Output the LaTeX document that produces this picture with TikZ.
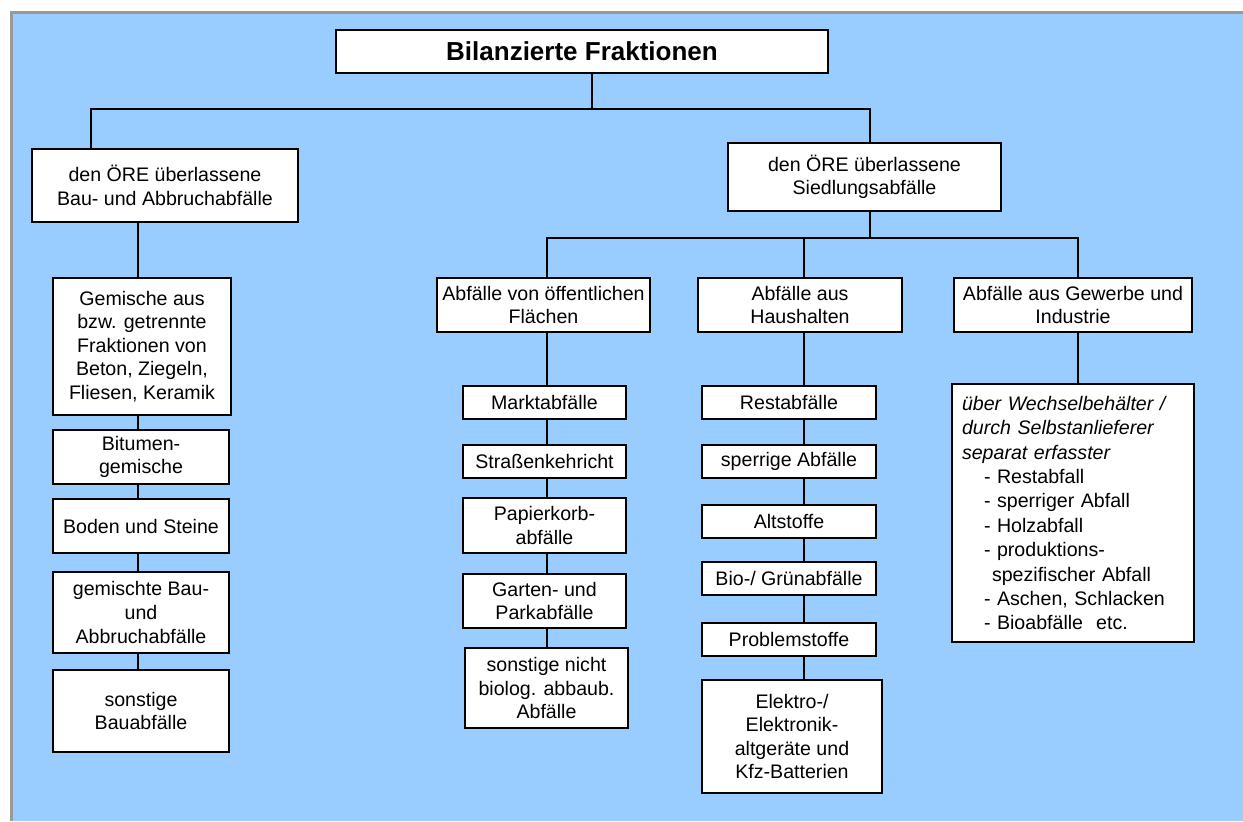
\documentclass[tikz,border=0pt]{standalone}
\usepackage{fontspec}
\setmainfont{Liberation Sans}
\definecolor{hgblau}{HTML}{99CCFF}
\definecolor{rahmengrau}{HTML}{999999}
\tikzset{
  kasten/.style={draw,fill=white,line width=0.8pt,align=center,inner sep=1pt,
    font=\fontsize{9.8}{11.8}\selectfont},
  linie/.style={line width=0.8pt}
}
\begin{document}
\begin{tikzpicture}[x=0.5pt,y=-0.5pt]
\useasboundingbox (0,0) rectangle (1243,821);
\fill[white] (0,0) rectangle (1243,821);
\fill[rahmengrau] (10,11) rectangle (1243,821);
\fill[hgblau] (13,14) rectangle (1243,821);
% Kopf
\node[kasten,minimum width=246pt,minimum height=21.5pt,font=\fontsize{13}{15}\selectfont\bfseries] (titel) at (582,51.5) {Bilanzierte Fraktionen};
\node[kasten,minimum width=133pt,minimum height=36.5pt] (bau) at (165,185.5) {den ÖRE überlassene\\Bau- und Abbruchabfälle};
\node[kasten,minimum width=136.5pt,minimum height=34pt] (sied) at (864.5,177) {den ÖRE überlassene\\Siedlungsabfälle};
% Bau- und Abbruchabfaelle
\node[kasten,minimum width=89pt,minimum height=68.5pt] (gem) at (142,346.5) {Gemische aus\\bzw. getrennte\\Fraktionen von\\Beton, Ziegeln,\\Fliesen, Keramik};
\node[kasten,minimum width=88pt,minimum height=27pt] (bit) at (141,457) {Bitumen-\\gemische};
\node[kasten,minimum width=88pt,minimum height=27pt] (bod) at (141,526) {Boden und Steine};
\node[kasten,minimum width=88pt,minimum height=40.5pt] (gmb) at (141,612.5) {gemischte Bau-\\und\\Abbruchabfälle};
\node[kasten,minimum width=88pt,minimum height=41pt] (son) at (141,711) {sonstige\\Bauabfälle};
% Siedlungsabfaelle
\node[kasten,minimum width=106.5pt,minimum height=27pt] (fla) at (543.5,305) {Abfälle von öffentlichen\\Flächen};
\node[kasten,minimum width=102pt,minimum height=27pt] (hau) at (800,305) {Abfälle aus\\Haushalten};
\node[kasten,minimum width=119pt,minimum height=27pt] (gew) at (1073,305) {Abfälle aus Gewerbe und\\Industrie};
\node[kasten,minimum width=81.5pt,minimum height=16.5pt] (mar) at (544.5,402.5) {Marktabfälle};
\node[kasten,minimum width=81.5pt,minimum height=16.5pt] (str) at (544.5,461.5) {Straßenkehricht};
\node[kasten,minimum width=81.5pt,minimum height=27.5pt] (pap) at (544.5,525.5) {Papierkorb-\\abfälle};
\node[kasten,minimum width=81.5pt,minimum height=27pt] (gar) at (544.5,601) {Garten- und\\Parkabfälle};
\node[kasten,minimum width=81.5pt,minimum height=40pt] (snb) at (546.5,688) {sonstige nicht\\biolog. abbaub.\\Abfälle};
\node[kasten,minimum width=87pt,minimum height=16.5pt] (res) at (789,402.5) {Restabfälle};
\node[kasten,minimum width=87pt,minimum height=16.5pt] (spe) at (789,461.5) {sperrige Abfälle};
\node[kasten,minimum width=87pt,minimum height=16.5pt] (alt) at (789,521.5) {Altstoffe};
\node[kasten,minimum width=87pt,minimum height=16.5pt] (bio) at (789,578.5) {Bio-/ Grünabfälle};
\node[kasten,minimum width=87pt,minimum height=16.5pt] (pro) at (789,639.5) {Problemstoffe};
\node[kasten,minimum width=90pt,minimum height=56.5pt] (ele) at (792,736.5) {Elektro-/\\Elektronik-\\altgeräte und\\Kfz-Batterien};
\node[kasten,minimum width=121pt,minimum height=129pt,text width=111pt,align=left,inner sep=5pt,
  font=\fontsize{9.8}{12.2}\selectfont] (gwk) at (1073,513) {\textit{über Wechselbehälter /}\\\textit{durch Selbstanlieferer}\\\textit{separat erfasster}\\
  \hspace*{11pt}- Restabfall\\\hspace*{11pt}- sperriger Abfall\\\hspace*{11pt}- Holzabfall\\\hspace*{11pt}- produktions-\\
  \hspace*{15pt}spezifischer Abfall\\\hspace*{11pt}- Aschen, Schlacken\\\hspace*{11pt}- Bioabfälle~ etc.};
% Verbindungen
\coordinate (k0) at (592,109);
\coordinate (kl) at (91,109);
\coordinate (kr) at (870,109);
\coordinate (sl) at (138,0);
\coordinate (s0) at (870,238);
\coordinate (s1) at (547,238);
\coordinate (s2) at (804,238);
\coordinate (s3) at (1078,238);
\draw[linie] (titel.south -| k0) -- (k0);
\draw[linie] (kl |- bau.north) -- (kl) -- (kr) -- (kr |- sied.north);
\draw[linie] (bau.south -| sl) -- (gem.north -| sl);
\foreach \a/\b in {gem/bit,bit/bod,bod/gmb,gmb/son}{
\draw[linie] (\a.south -| sl) -- (\b.north -| sl);
}
\draw[linie] (sied.south -| s0) -- (s0);
\draw[linie] (s1 |- fla.north) -- (s1) -- (s3) -- (s3 |- gew.north);
\draw[linie] (s2) -- (s2 |- hau.north);
\foreach \a/\b in {fla/mar,mar/str,str/pap,pap/gar,gar/snb}{
\draw[linie] (\a.south -| s1) -- (\b.north -| s1);
}
\foreach \a/\b in {hau/res,res/spe,spe/alt,alt/bio,bio/pro,pro/ele}{
\draw[linie] (\a.south -| s2) -- (\b.north -| s2);
}
\draw[linie] (gew.south -| s3) -- (gwk.north -| s3);
\end{tikzpicture}
\end{document}
